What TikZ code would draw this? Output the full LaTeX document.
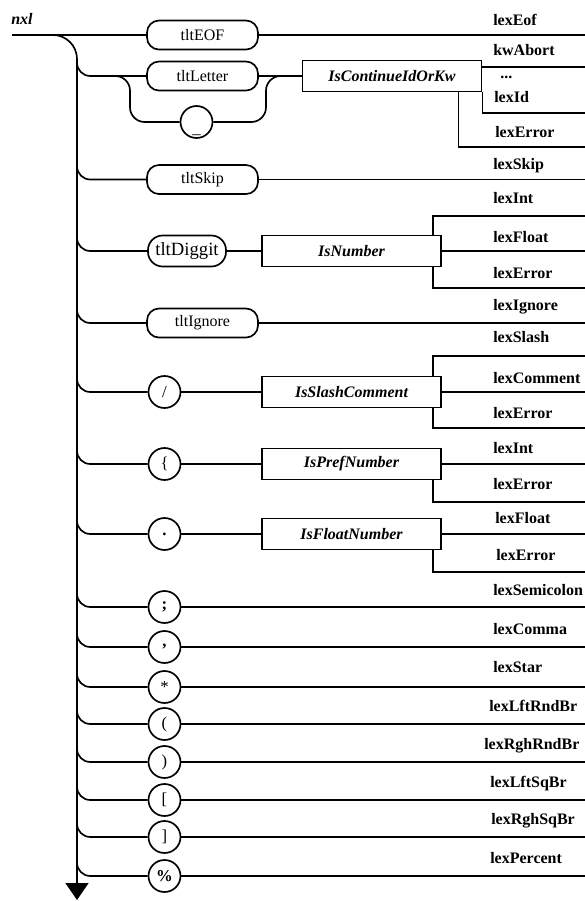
\documentclass[tikz,border=0pt]{standalone}
\usepackage{fontspec}
\setmainfont{Liberation Serif}
\usetikzlibrary{arrows.meta,calc}
\begin{document}
\begin{tikzpicture}[x=0.75pt,y=-0.75pt,
  rail/.style={line width=1.25pt},
  fork/.style={rail, rounded corners=10pt},
  term/.style={draw, line width=1.25pt, rounded corners=9pt, minimum width=83.25pt,
    minimum height=21.75pt, inner sep=0pt, font=\fontsize{12}{14}\selectfont},
  tok/.style={draw, line width=1.25pt, circle, minimum size=24pt, inner sep=0pt,
    font=\fontsize{12.5}{14}\selectfont},
  proc/.style={draw, line width=1.25pt, rectangle, minimum width=134.25pt,
    minimum height=23.25pt, inner sep=0pt, font=\fontsize{12}{14}\selectfont\bfseries\itshape},
  res/.style={anchor=base west, inner sep=0pt, font=\fontsize{12}{14}\selectfont\bfseries},
]
\fill[white] (0,0) rectangle (585,901);
\useasboundingbox (0,0) rectangle (585,901);

% entry and the first alternative
\node[res] (nxl) at (11,24) {\itshape nxl};
\coordinate (start) at (12,35);
\coordinate (eofR) at (585,35);
\node[term] (eof) at (202.5,35) {tltEOF};
\draw[rail] (start) -- (eof.west);
\draw[rail] (eof.east) -- (eofR);

% spine going down to the arrow
\coordinate (spineTop) at (40,35);
\coordinate (spineEnd) at (77,900);
\draw[rail, rounded corners=18pt, -{Triangle[width=17.25pt,length=12.75pt]}] (spineTop) -| (spineEnd);

% identifiers and keywords
\node[term] (let) at (202.5,76) {tltLetter};
\node[proc] (ckw) at (392,76) {IsContinueIdOrKw};
\draw[fork] ($(spineEnd|-let.west)+(0,-18)$) |- (let.west);
\draw[rail] (let.east) -- (ckw.west);
\node[tok, text height=0pt, text depth=0pt] (us) at (196.5,122) {\raisebox{-8.5pt}{\_}};
\coordinate (bl) at (112,76);
\coordinate (usL) at (130,122);
\coordinate (usR) at (266,122);
\coordinate (br) at (288,76);
\draw[rail, rounded corners=11pt] (bl) -| (usL) -- (us.west);
\draw[rail, rounded corners=11pt] (us.east) -- (usR) |- (br);
\coordinate (kwR) at (585,67);
\coordinate (idR) at (585,113);
\coordinate (ckwErrR) at (585,147);
\draw[rail] (ckw.east |- kwR) -- (kwR);
\draw[rail] (ckw.south east) |- (idR);
\draw[rail] ($(ckw.south east)+(-24,0)$) |- (ckwErrR);

% skip
\node[term] (skip) at (202.5,179.5) {tltSkip};
\coordinate (skipR) at (585,179.5);
\draw[fork] ($(spineEnd|-skip.west)+(0,-20)$) |- (skip.west);
\draw[rail] (skip.east) -- (skipR);

% numbers
\node[term, minimum width=58.5pt, minimum height=23.25pt, rounded corners=11pt,
  font=\fontsize{14}{16}\selectfont] (dig) at (187,251) {tltDiggit};
\node[proc] (num) at (351.5,251) {IsNumber};
\draw[fork] ($(spineEnd|-dig.west)+(0,-20)$) |- (dig.west);
\draw[rail] (dig.east) -- (num.west);
\coordinate (numUp) at (585,216);
\coordinate (numMid) at (585,251);
\coordinate (numLow) at (585,288);
\draw[rail] ($(num.north east)+(-9,0)$) |- (numUp);
\draw[rail] (num.east) -- (numMid);
\draw[rail] ($(num.south east)+(-9,0)$) |- (numLow);

% ignored characters
\node[term] (ign) at (202.5,323) {tltIgnore};
\coordinate (ignR) at (585,323);
\draw[fork] ($(spineEnd|-ign.west)+(0,-20)$) |- (ign.west);
\draw[rail] (ign.east) -- (ignR);

% slash and comments
\node[tok] (sl) at (164.5,392) {/};
\node[proc] (slc) at (351.5,392) {IsSlashComment};
\draw[fork] ($(spineEnd|-sl.west)+(0,-20)$) |- (sl.west);
\draw[rail] (sl.east) -- (slc.west);
\coordinate (slcUp) at (585,356);
\coordinate (slcMid) at (585,392);
\coordinate (slcLow) at (585,428);
\draw[rail] ($(slc.north east)+(-9,0)$) |- (slcUp);
\draw[rail] (slc.east) -- (slcMid);
\draw[rail] ($(slc.south east)+(-9,0)$) |- (slcLow);

% prefixed numbers
\node[tok] (br1) at (164.5,464) {\{};
\node[proc] (pref) at (351.5,464) {IsPrefNumber};
\draw[fork] ($(spineEnd|-br1.west)+(0,-20)$) |- (br1.west);
\draw[rail] (br1.east) -- (pref.west);
\coordinate (prefMid) at (585,464);
\coordinate (prefLow) at (585,502);
\draw[rail] (pref.east) -- (prefMid);
\draw[rail] ($(pref.south east)+(-9,0)$) |- (prefLow);

% float numbers
\node[tok, font=\fontsize{12.5}{14}\selectfont\bfseries] (dot) at (164.5,534) {.};
\node[proc] (flt) at (351.5,534) {IsFloatNumber};
\draw[fork] ($(spineEnd|-dot.west)+(0,-20)$) |- (dot.west);
\draw[rail] (dot.east) -- (flt.west);
\coordinate (fltMid) at (585,534);
\coordinate (fltLow) at (585,572);
\draw[rail] (flt.east) -- (fltMid);
\draw[rail] ($(flt.south east)+(-9,0)$) |- (fltLow);

% single characters
\foreach \nm/\yy/\txt in {semi/607/{\bfseries;}, comma/647/{\bfseries,}, star/687/{*},
    lrb/724/{(}, rrb/762/{)}, lsb/800/{[}, rsb/837/{]}, pct/876/{\bfseries\%}} {
  \node[tok] (\nm) at (164.5,\yy) {\txt};
  \coordinate (\nm R) at (585,\yy);
  \draw[fork] ($(spineEnd|-\nm.west)+(0,-20)$) |- (\nm.west);
  \draw[rail] (\nm.east) -- (\nm R);
}

% results
\node[res] (rEof) at (493,25) {lexEof};
\node[res] (rAbort) at (493,55) {kwAbort};
\node[res] (rDots) at (500,78) {...};
\node[res] (rId) at (494,102) {lexId};
\node[res] (rErr1) at (495,137) {lexError};
\node[res] (rSkip) at (493,169) {lexSkip};
\node[res] (rInt1) at (493,203) {lexInt};
\node[res] (rFlt1) at (493,242) {lexFloat};
\node[res] (rErr2) at (493,278) {lexError};
\node[res] (rIgn) at (493,310) {lexIgnore};
\node[res] (rSlash) at (493,342) {lexSlash};
\node[res] (rCom) at (493,383) {lexComment};
\node[res] (rErr3) at (493,418) {lexError};
\node[res] (rInt2) at (493,453) {lexInt};
\node[res] (rErr4) at (493,489) {lexError};
\node[res] (rFlt2) at (495,523) {lexFloat};
\node[res] (rErr5) at (496,560) {lexError};
\node[res] (rSemi) at (493,595) {lexSemicolon};
\node[res] (rComma) at (493,634) {lexComma};
\node[res] (rStar) at (493,672) {lexStar};
\node[res] (rLrb) at (489,711) {lexLftRndBr};
\node[res] (rRrb) at (484,749) {lexRghRndBr};
\node[res] (rLsb) at (490,787) {lexLftSqBr};
\node[res] (rRsb) at (491,824) {lexRghSqBr};
\node[res] (rPct) at (490,863) {lexPercent};
\end{tikzpicture}
\end{document}
